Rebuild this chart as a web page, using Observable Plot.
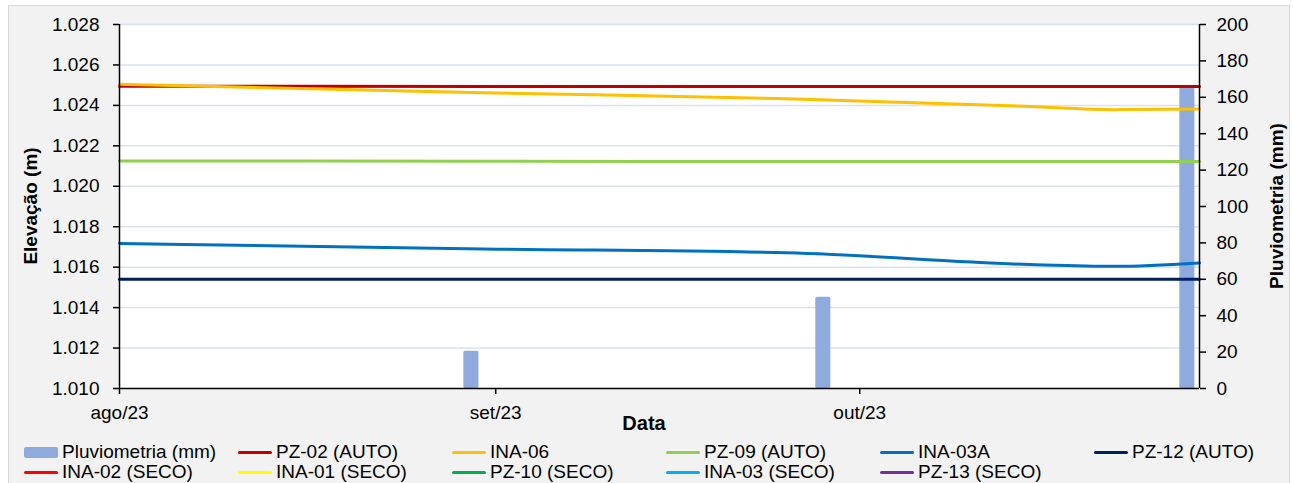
<!DOCTYPE html>
<html>
<head>
<meta charset="utf-8">
<script src="https://cdn.jsdelivr.net/npm/d3@7"></script>
<script src="https://cdn.jsdelivr.net/npm/@observablehq/plot@0.6"></script>
<style>
  html, body { margin: 0; padding: 0; background: #ffffff; }
  #wrap { position: relative; width: 1293px; height: 483px; overflow: hidden; font-family: "Liberation Sans", Arial, sans-serif; }
  #panel { position: absolute; left: 8px; top: 5px; width: 1282px; height: 490px; background: #f2f2f2; border: 1px solid #d9d9d9; box-sizing: border-box; }
  #chart { position: absolute; left: 0; top: 0; }
  #legend { position: absolute; left: 0; top: 440px; width: 1293px; height: 43px; }
  .item { position: absolute; height: 20px; display: flex; align-items: center; font-size: 19px; color: #000; white-space: nowrap; }
  .sw { width: 34px; margin-right: 4px; }
</style>
</head>
<body>
<div id="wrap">
  <div id="panel"></div>
  <div id="chart"></div>
  <div id="legend"></div>
</div>
<script>
// Monitoring dates and water-level elevations (m)
const dates = ["2023-08-01", "2023-08-31", "2023-09-25", "2023-10-15", "2023-10-22", "2023-10-29"];
const pz02 = [1.02495, 1.02494, 1.02494, 1.02494, 1.02494, 1.02494];
const ina06 = [1.02504, 1.02462, 1.02433, 1.02395, 1.02379, 1.02382];
const pz09 = [1.02125, 1.02124, 1.02122, 1.02122, 1.02123, 1.02122];
const ina03a = [1.01717, 1.01690, 1.01671, 1.01613, 1.01604, 1.01621];
const pz12 = [1.01540, 1.01540, 1.01540, 1.01540, 1.01540, 1.01540];

// Rainfall (mm)
const rainDates = ["2023-08-30", "2023-09-28", "2023-10-28"];
const rainMm = [20.4, 50.1, 165.3];

// Axes
const elevTicks = [1.010, 1.012, 1.014, 1.016, 1.018, 1.020, 1.022, 1.024, 1.026, 1.028];
const rainTicks = [0, 20, 40, 60, 80, 100, 120, 140, 160, 180, 200];
const monthTicks = ["2023-08-01", "2023-09-01", "2023-10-01"];
const monthLabels = ["ago/23", "set/23", "out/23"];
const xDomain = ["2023-08-01", "2023-10-29"];

// Series legend (drawn and empty "SECO" wells)
const seriesNames = ["PZ-02 (AUTO)", "INA-06", "PZ-09 (AUTO)", "INA-03A", "PZ-12 (AUTO)",
  "INA-02 (SECO)", "INA-01 (SECO)", "PZ-10 (SECO)", "INA-03 (SECO)", "PZ-13 (SECO)"];
const seriesColors = ["#c00000", "#ffc000", "#92d050", "#0070c0", "#002060",
  "#ff0000", "#ffff00", "#00b050", "#00b0f0", "#7030a0"];
const rainName = "Pluviometria (mm)";
const rainColor = "#8faadc";

const parse = d3.utcParse("%Y-%m-%d");
const yMin = 1.010, yMax = 1.028, rMax = 200;
const toElev = mm => yMin + mm * (yMax - yMin) / rMax;
const fromElev = v => Math.round((v - yMin) * rMax / (yMax - yMin));

const seriesValues = [pz02, ina06, pz09, ina03a, pz12];
const lineRows = seriesValues.flatMap((vals, s) =>
  vals.map((v, i) => ({series: seriesNames[s], date: parse(dates[i]), value: v})));
const rainRows = rainDates.map((d, i) => ({date: parse(d), mm: rainMm[i]}));
const halfBar = 0.62 * 864e5;

const monthLabel = new Map(monthTicks.map((d, i) => [+parse(d), monthLabels[i]]));

const chart = Plot.plot({
  width: 1293,
  height: 440,
  marginLeft: 119,
  marginRight: 94,
  marginTop: 24,
  marginBottom: 52,
  style: {background: "transparent", fontFamily: "'Liberation Sans', Arial, sans-serif", fontSize: "19px", color: "#000"},
  x: {type: "utc", domain: xDomain.map(parse)},
  y: {domain: [yMin, yMax]},
  marks: [
    Plot.frame({fill: "#ffffff", stroke: "none"}),
    Plot.gridY(elevTicks, {stroke: "#d9e1f2", strokeOpacity: 1, strokeWidth: 1.5}),
    Plot.rect(rainRows, {
      x1: d => new Date(+d.date - halfBar),
      x2: d => new Date(+d.date + halfBar),
      y1: () => yMin,
      y2: d => toElev(d.mm),
      fill: rainColor,
      rx: 1.5
    }),
    ...seriesNames.slice(0, 5).map((name, s) =>
      Plot.line(lineRows.filter(r => r.series === name), {
        x: "date", y: "value", stroke: seriesColors[s], strokeWidth: 3, curve: "monotone-x"
      })),
    Plot.ruleY([yMin], {stroke: "#000", strokeWidth: 1.5}),
    Plot.ruleX(xDomain.map(parse), {stroke: "#000", strokeWidth: 1.5}),
    Plot.axisY({ticks: elevTicks, tickFormat: d3.format(".3f"), tickSize: 6, tickPadding: 14, label: null, stroke: "#000", strokeWidth: 1.5}),
    Plot.axisY({anchor: "right", ticks: rainTicks.map(toElev), tickFormat: fromElev, tickSize: 6, tickPadding: 11, label: null, stroke: "#000", strokeWidth: 1.5}),
    Plot.axisX({ticks: monthTicks.map(parse), tickFormat: d => monthLabel.get(+d), tickSize: 6, tickPadding: 11, label: null, stroke: "#000", strokeWidth: 1.5})
  ]
});
document.getElementById("chart").append(chart);

// Axis titles
const svg = d3.select(chart);
const titleFont = "'Liberation Sans', Arial, sans-serif";
svg.append("text")
  .attr("transform", "translate(30,206) rotate(-90)")
  .attr("text-anchor", "middle").attr("dy", "0.35em")
  .attr("font-family", titleFont).attr("font-size", 19).attr("font-weight", "bold").attr("fill", "#000")
  .text("Elevação (m)");
svg.append("text")
  .attr("transform", "translate(1276,206) rotate(-90)")
  .attr("text-anchor", "middle").attr("dy", "0.35em")
  .attr("font-family", titleFont).attr("font-size", 19).attr("font-weight", "bold").attr("fill", "#000")
  .text("Pluviometria (mm)");
svg.append("text")
  .attr("x", 644).attr("y", 423)
  .attr("text-anchor", "middle").attr("dy", "0.35em")
  .attr("font-family", titleFont).attr("font-size", 20).attr("font-weight", "bold").attr("fill", "#000")
  .text("Data");

// Legend below the chart, six columns by two rows
const legendItems = [{name: rainName, color: rainColor, bar: true}]
  .concat(seriesNames.map((n, i) => ({name: n, color: seriesColors[i], bar: false})));
const legend = d3.select("#legend");
legendItems.forEach((it, i) => {
  const col = i % 6, row = Math.floor(i / 6);
  const item = legend.append("div").attr("class", "item")
    .style("left", (24 + col * 214) + "px")
    .style("top", (2 + row * 20) + "px");
  item.append("div").attr("class", "sw")
    .style("height", it.bar ? "11px" : "3px")
    .style("border-radius", "2px")
    .style("background", it.color);
  item.append("span").text(it.name);
});
</script>
</body>
</html>
